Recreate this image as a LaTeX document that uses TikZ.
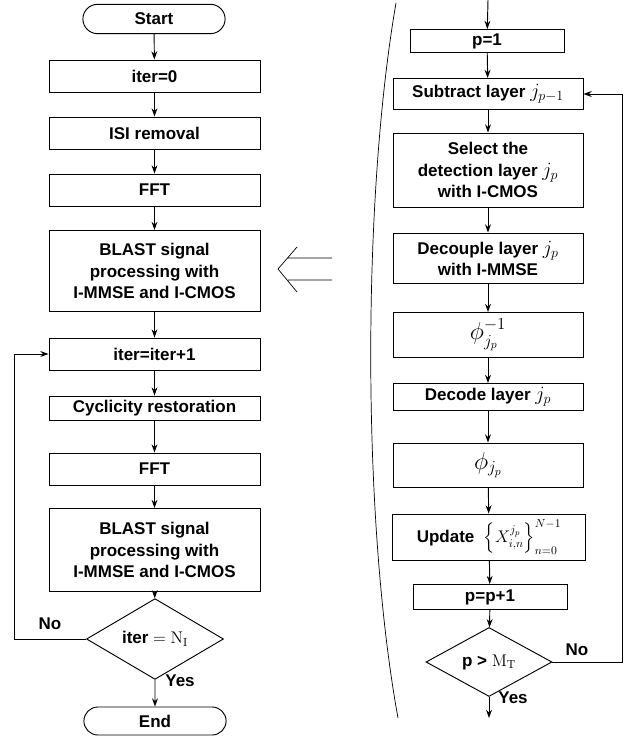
\documentclass[tikz,border=0pt]{standalone}
\usepackage[no-math]{fontspec}
\setmainfont{Liberation Sans}
\usepackage{amsmath}
\usetikzlibrary{shapes.geometric, shapes.misc, arrows.meta}
\newcommand{\layermath}[1]{{\fontsize{18}{18}\selectfont$#1$}}

\begin{document}
\begin{tikzpicture}[x=0.03cm, y=-0.03cm, >={Stealth[length=7pt,width=5pt]}, line width=0.8pt,
    every node/.style={font=\fontsize{14.5}{18}\selectfont\bfseries},
    box/.style={draw, align=center, inner sep=2pt},
    lbox/.style={box, minimum width=6.33cm, minimum height=0.96cm},
    rbox/.style={box, minimum width=5.7cm},
    term/.style={draw, rounded rectangle, minimum width=4.5cm, minimum height=0.88cm},
    test/.style={draw, diamond, inner sep=0pt}]
\useasboundingbox (0,0) rectangle (633,737);
% left: the whole receiver
\node[term] (start) at (154,19) {Start};
\node[lbox] (iter0) at (154.5,76) {iter=0};
\node[lbox] (isi) at (154.5,133) {ISI removal};
\node[lbox] (fft1) at (154.5,190) {FFT};
\node[lbox, minimum height=2.43cm] (blast1) at (154.5,271) {BLAST signal\\processing with\\I-MMSE and I-CMOS};
\node[lbox] (iterinc) at (154.5,354) {iter=iter+1};
\node[lbox, minimum height=0.72cm] (cyc) at (154.5,408) {Cyclicity restoration};
\node[lbox] (fft2) at (154.5,469) {FFT};
\node[lbox, minimum height=2.49cm] (blast2) at (154.5,550) {BLAST signal\\processing with\\I-MMSE and I-CMOS};
\node[test, minimum width=4.11cm, minimum height=1.38cm] (itertest) at (155,639) {iter $=\mathrm{N}_{\mathrm{I}}$};
\node[term, minimum height=0.84cm] (end) at (155,721) {End};
\coordinate (lloop) at (14,354);
\draw[->] (start) -- (iter0);
\draw[->] (iter0) -- (isi);
\draw[->] (isi) -- (fft1);
\draw[->] (fft1) -- (blast1);
\draw[->] (blast1) -- (iterinc);
\draw[->] (iterinc) -- (cyc);
\draw[->] (cyc) -- (fft2);
\draw[->] (fft2) -- (blast2);
\draw[->] (blast2) -- (itertest);
\draw[->] (itertest) -- (end);
\draw[->] (itertest.west) -| (lloop) -- (iterinc.west);
\node (nol) at (50,624) {No};
\node (yesl) at (180,681) {Yes};
% the arrow and the bracket
\draw[line width=0.6pt] (288,258) -- (332,258) (288,280) -- (332,280) (297,247) -- (278,269) -- (297,292);
\draw[line width=0.6pt] (396,3) .. controls (362,200) and (362,520) .. (398,718);
% right: inside the BLAST block
\coordinate (rin) at (488,0);
\node[box, minimum width=4.62cm, minimum height=0.69cm] (p1) at (487,41) {p=1};
\node[rbox, minimum height=0.93cm] (sub) at (488,94) {Subtract layer \layermath{j_{p-1}}};
\node[rbox, minimum height=2.22cm] (sel) at (488,170) {Select the\\detection layer \layermath{j_p}\\with I-CMOS};
\node[rbox, minimum height=1.5cm] (deco) at (488,258) {Decouple layer \layermath{j_p}\\with I-MMSE};
\node[rbox, minimum height=1.35cm, font=\fontsize{20}{24}\selectfont] (phiinv) at (488,335) {$\phi^{-1}_{j_p}$};
\node[rbox, minimum height=0.81cm] (decode) at (488,397) {Decode layer \layermath{j_p}};
\node[rbox, minimum height=1.32cm, font=\fontsize{20}{24}\selectfont] (phi) at (488,465) {$\phi_{j_p}$};
\node[box, minimum width=5.79cm, minimum height=1.38cm] (upd) at (489,537) {Update~ $\left\{X^{j_p}_{i,n}\right\}^{N-1}_{n=0}$};
\node[box, minimum width=4.62cm, minimum height=0.75cm] (pinc) at (490,597) {p=p+1};
\node[test, minimum width=3.78cm, minimum height=1.5cm] (ptest) at (489,662) {p > $\mathrm{M}_{\mathrm{T}}$};
\coordinate (rout) at (489,718);
\coordinate (rloop) at (622,94);
\draw[->] (rin) -- (p1);
\draw[->] (p1) -- (sub);
\draw[->] (sub) -- (sel);
\draw[->] (sel) -- (deco);
\draw[->] (deco) -- (phiinv);
\draw[->] (phiinv) -- (decode);
\draw[->] (decode) -- (phi);
\draw[->] (phi) -- (upd);
\draw[->] (upd) -- (pinc);
\draw[->] (pinc) -- (ptest);
\draw[->] (ptest) -- (rout);
\draw[->] (ptest.east) -| (rloop) -- (sub.east);
\node (nor) at (577,650) {No};
\node (yesr) at (513,698) {Yes};
\end{tikzpicture}
\end{document}
